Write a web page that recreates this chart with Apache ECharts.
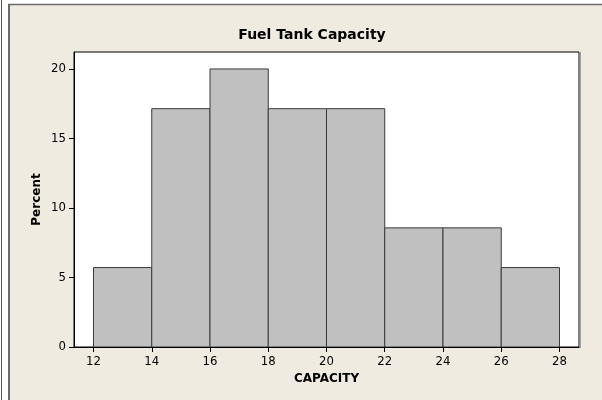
<!DOCTYPE html>
<html>
<head>
<meta charset="utf-8">
<script src="https://cdn.jsdelivr.net/npm/echarts@6/dist/echarts.min.js"></script>
<style>
html,body{margin:0;padding:0;background:#fff;}
#c{width:602px;height:400px;}
</style>
</head>
<body>
<div id="c"></div>
<script>
// Bin edges and percent per bin
var binStarts = [12, 14, 16, 18, 20, 22, 24, 26];
var binEnds   = [14, 16, 18, 20, 22, 24, 26, 28];
var percents  = [5.714, 17.143, 20, 17.143, 17.143, 8.571, 8.571, 5.714];
var xTicks = [12, 14, 16, 18, 20, 22, 24, 26, 28];
var yTicks = [0, 5, 10, 15, 20];

var data = binStarts.map(function (s, i) { return [s, binEnds[i], percents[i]]; });

var FONT = 'DejaVu Sans';
var TICKFONT = '"DejaVu Sans Condensed", "Liberation Sans", sans-serif';
var chart = echarts.init(document.getElementById('c'), null, {renderer: 'canvas'});
chart.setOption({
  backgroundColor: '#fff',
  animation: false,
  title: {
    text: 'Fuel Tank Capacity',
    left: 307,
    top: 23,
    textAlign: 'center',
    textStyle: {fontFamily: FONT, fontSize: 14, fontWeight: 'bold', color: '#000'}
  },
  graphic: [
    {type: 'rect', z: -10, shape: {x: 10, y: 5, width: 592, height: 395}, style: {fill: '#EFEBE1'}},
    {type: 'line', z: -5, shape: {x1: 1.5, y1: 0, x2: 1.5, y2: 400}, style: {stroke: '#555', lineWidth: 1}},
    {type: 'line', z: -5, shape: {x1: 9, y1: 4, x2: 9, y2: 400}, style: {stroke: '#6b6b6b', lineWidth: 2}},
    {type: 'line', z: -5, shape: {x1: 8, y1: 4.5, x2: 602, y2: 4.5}, style: {stroke: '#6b6b6b', lineWidth: 1.5}},
    {type: 'rect', z: -6, shape: {x: 74, y: 52, width: 505, height: 295}, style: {fill: '#fff'}},
    {type: 'line', z: 10, shape: {x1: 580, y1: 52, x2: 580, y2: 348}, style: {stroke: '#888', lineWidth: 1.5}}
  ],
  grid: {left: 74, top: 52, right: 23, bottom: 53, show: true, borderColor: '#000', borderWidth: 1, backgroundColor: 'transparent'},
  xAxis: {
    type: 'value', min: 11.33, max: 28.67,
    name: 'CAPACITY', nameLocation: 'middle', nameGap: 26, nameMoveOverlap: false,
    nameTextStyle: {fontFamily: FONT, fontSize: 12, fontWeight: 'bold', color: '#000'},
    axisLine: {show: true, lineStyle: {color: '#000', width: 1}},
    axisTick: {show: true, length: 5, inside: false, customValues: xTicks, lineStyle: {color: '#000'}},
    axisLabel: {customValues: xTicks, margin: 8, fontFamily: TICKFONT, fontSize: 13, color: '#000'},
    splitLine: {show: false}
  },
  yAxis: {
    type: 'value', min: 0, max: 21.22,
    name: 'Percent', nameLocation: 'middle', nameGap: 31, nameRotate: 90, nameMoveOverlap: false,
    nameTextStyle: {fontFamily: FONT, fontSize: 12, fontWeight: 'bold', color: '#000'},
    axisLine: {show: true, lineStyle: {color: '#000', width: 1}},
    axisTick: {show: true, length: 5, inside: false, customValues: yTicks, lineStyle: {color: '#000'}},
    axisLabel: {customValues: yTicks, margin: 8, fontFamily: TICKFONT, fontSize: 13, color: '#000'},
    splitLine: {show: false}
  },
  series: [{
    type: 'custom',
    clip: true,
    encode: {x: [0, 1], y: 2},
    data: data,
    renderItem: function (params, api) {
      var p0 = api.coord([api.value(0), 0]);
      var p1 = api.coord([api.value(1), api.value(2)]);
      return {
        type: 'rect',
        shape: {x: p0[0], y: p1[1], width: p1[0] - p0[0], height: p0[1] - p1[1]},
        style: {fill: '#C0C0C0', stroke: '#3a3a3a', lineWidth: 1}
      };
    }
  }]
});
</script>
</body>
</html>
